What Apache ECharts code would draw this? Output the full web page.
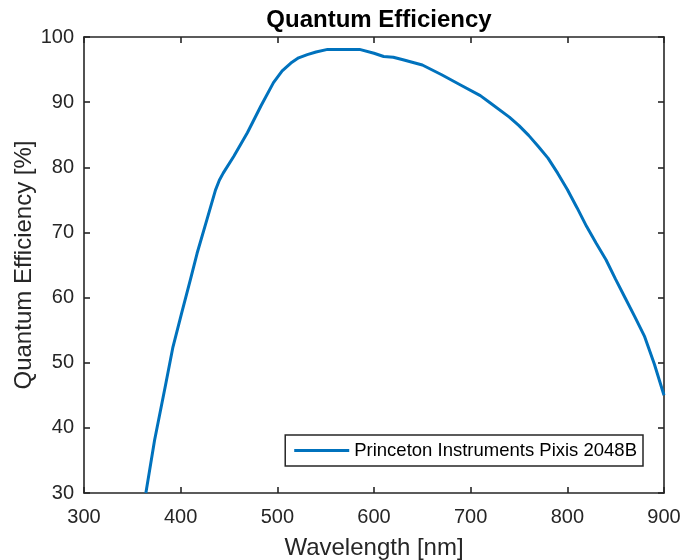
<!DOCTYPE html>
<html>
<head>
<meta charset="utf-8">
<script src="https://cdn.jsdelivr.net/npm/echarts@6/dist/echarts.min.js"></script>
<style>
  html, body { margin: 0; padding: 0; background: #fff; }
  #chart { width: 682px; height: 560px; }
</style>
</head>
<body>
<div id="chart"></div>
<script>
// Quantum efficiency curve of the camera sensor
const wavelengthNm = [364, 373, 384, 392, 401, 410, 417, 427, 436, 440, 444, 455, 469, 483, 496,
  505, 514, 522, 531, 540, 552, 585, 600, 610, 620, 630, 650, 670, 690, 710, 720,
  740, 750, 760, 770, 780, 790, 800, 810, 820, 830, 840, 850, 860, 870, 880, 890, 900];
const qePercent = [30, 38.1, 46.3, 52.4, 57.6, 62.7, 66.8, 71.9, 76.5, 78.0, 79.1, 81.7, 85.3, 89.4, 93,
  94.8, 96, 96.8, 97.3, 97.7, 98.1, 98.1, 97.5, 97.0, 96.9, 96.5, 95.7, 94.2, 92.6, 91.0, 89.9,
  87.7, 86.4, 84.9, 83.2, 81.4, 79.1, 76.6, 73.8, 70.9, 68.3, 65.8, 62.8, 59.9, 57.0, 54.0, 49.8, 45];
const seriesName = 'Princeton Instruments Pixis 2048B';
const xTicks = { min: 300, max: 900, step: 100 };
const yTicks = { min: 30, max: 100, step: 10 };

const FONT = '"Liberation Sans", Arial, Helvetica, sans-serif';
const AX = '#262626';

const axisBase = {
  type: 'value',
  axisLine: { show: true, onZero: false, lineStyle: { color: AX, width: 1.6 } },
  axisTick: { show: true, inside: true, length: 6, lineStyle: { color: AX, width: 1.6 } },
  splitLine: { show: false },
};

const chart = echarts.init(document.getElementById('chart'), null, { renderer: 'canvas' });
chart.setOption({
  backgroundColor: '#ffffff',
  animation: false,
  title: {
    text: 'Quantum Efficiency',
    left: 374, top: 3, textAlign: 'center',
    textStyle: { fontFamily: FONT, fontWeight: 'bold', fontSize: 24, color: '#000' }
  },
  grid: { left: 84, right: 18, top: 37, bottom: 67, containLabel: false, outerBoundsMode: 'none' },
  legend: {
    data: [{ name: seriesName, icon: 'rect' }],
    right: 39, top: 435,
    orient: 'vertical',
    backgroundColor: '#fff',
    borderColor: AX, borderWidth: 1.5, borderRadius: 0,
    padding: [6, 6, 6, 9],
    itemWidth: 55, itemHeight: 3,
    textStyle: { fontFamily: FONT, fontSize: 18.5, color: '#000', lineHeight: 19 }
  },
  xAxis: [
    Object.assign({}, axisBase, {
      position: 'bottom', min: xTicks.min, max: xTicks.max, interval: xTicks.step,
      name: 'Wavelength [nm]', nameLocation: 'middle', nameGap: 43, nameMoveOverlap: false,
      nameTextStyle: { fontFamily: FONT, fontSize: 24, color: AX },
      axisLabel: { fontFamily: FONT, fontSize: 20, color: AX, margin: 14 }
    }),
    Object.assign({}, axisBase, {
      position: 'top', min: xTicks.min, max: xTicks.max, interval: xTicks.step,
      axisLabel: { show: false }
    })
  ],
  yAxis: [
    Object.assign({}, axisBase, {
      position: 'left', min: yTicks.min, max: yTicks.max, interval: yTicks.step,
      name: 'Quantum Efficiency [%]', nameLocation: 'middle', nameGap: 48, nameRotate: 90,
      nameMoveOverlap: false,
      nameTextStyle: { fontFamily: FONT, fontSize: 24, color: AX },
      axisLabel: { fontFamily: FONT, fontSize: 20, color: AX, margin: 10 }
    }),
    Object.assign({}, axisBase, {
      position: 'right', min: yTicks.min, max: yTicks.max, interval: yTicks.step,
      axisLabel: { show: false }
    })
  ],
  series: [{
    name: seriesName,
    type: 'line',
    xAxisIndex: 0, yAxisIndex: 0,
    data: wavelengthNm.map((w, i) => [w, qePercent[i]]),
    showSymbol: false, symbol: 'none',
    lineStyle: { color: '#0072BD', width: 3 },
    itemStyle: { color: '#0072BD' },
    clip: true
  }]
});
</script>
</body>
</html>
